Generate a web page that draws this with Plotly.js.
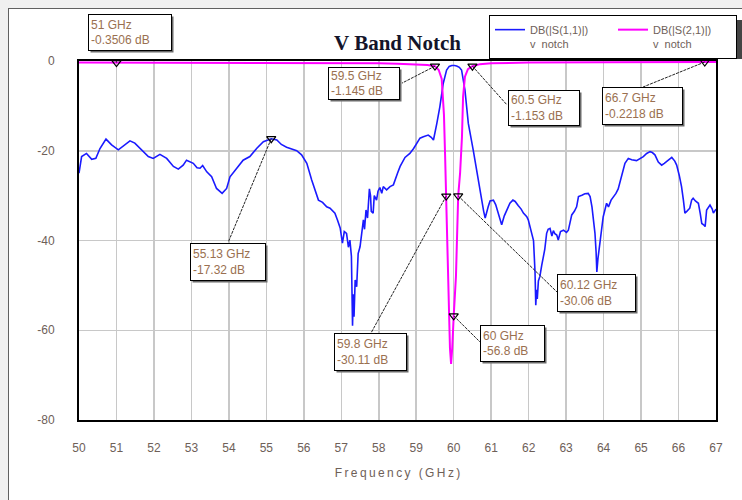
<!DOCTYPE html>
<html>
<head>
<meta charset="utf-8">
<script src="https://cdn.plot.ly/plotly-3.0.1.min.js"></script>
<style>
html,body{margin:0;padding:0;background:#f0f0f0;}
#frame{position:absolute;left:8px;top:8px;width:740px;height:500px;background:#fff;border-left:1px solid #606060;border-top:1px solid #606060;}
#chart{position:absolute;left:0;top:0;width:742px;height:500px;}
</style>
</head>
<body>
<div id="frame"></div>
<div id="chart"></div>
<script>
// ---- data: S11 (blue) ----
const s11Freq = [50.00,50.03,50.07,50.20,50.34,50.45,50.56,50.72,50.87,51.05,51.23,51.36,51.49,51.67,51.85,51.98,52.16,52.34,52.52,52.65,52.78,52.87,53.05,53.15,53.23,53.30,53.41,53.54,53.67,53.82,53.94,54.03,54.21,54.38,54.56,54.74,54.92,55.13,55.28,55.40,55.54,55.81,55.94,56.08,56.21,56.30,56.39,56.50,56.61,56.70,56.83,56.90,56.97,57.03,57.08,57.14,57.19,57.23,57.27,57.30,57.32,57.34,57.37,57.41,57.45,57.50,57.55,57.59,57.62,57.66,57.70,57.75,57.78,57.80,57.85,57.88,57.94,57.98,58.03,58.08,58.12,58.21,58.30,58.39,58.50,58.57,58.70,58.83,58.93,59.01,59.10,59.19,59.32,59.40,59.46,59.55,59.63,59.72,59.81,59.88,59.95,60.02,60.08,60.15,60.21,60.30,60.39,60.52,60.61,60.66,60.75,60.80,60.84,60.88,60.92,60.97,61.06,61.12,61.19,61.24,61.28,61.35,61.41,61.50,61.58,61.64,61.72,61.80,61.86,61.95,61.99,62.08,62.13,62.17,62.19,62.21,62.23,62.26,62.30,62.35,62.39,62.43,62.48,62.52,62.57,62.62,62.66,62.70,62.75,62.79,62.85,62.93,63.01,63.06,63.15,63.22,63.28,63.33,63.42,63.50,63.59,63.64,63.69,63.73,63.77,63.80,63.82,63.85,63.90,63.95,63.99,64.08,64.13,64.20,64.26,64.33,64.39,64.44,64.48,64.53,64.57,64.66,64.75,64.88,64.97,65.06,65.15,65.24,65.30,65.37,65.46,65.55,65.62,65.68,65.75,65.82,65.90,65.95,66.02,66.08,66.13,66.17,66.22,66.30,66.35,66.39,66.45,66.53,66.58,66.62,66.67,66.71,66.75,66.80,66.84,66.90,66.93,67.00];
const s11Db = [-25.0,-23.0,-21.3,-20.6,-21.9,-21.7,-19.5,-17.4,-18.7,-19.8,-18.7,-17.8,-18.3,-19.7,-21.3,-21.7,-20.8,-21.7,-23.5,-24.1,-23.2,-22.1,-22.8,-23.8,-23.9,-23.3,-24.7,-25.8,-28.4,-29.5,-28.4,-25.8,-23.9,-22.1,-21.3,-19.5,-18.0,-17.32,-17.6,-18.6,-19.2,-20.0,-20.9,-22.8,-26.5,-28.7,-31.0,-31.5,-32.5,-32.8,-33.9,-35.5,-37.2,-40.6,-38.0,-38.4,-41.5,-39.9,-43.5,-59.0,-52.0,-57.0,-48.8,-50.3,-42.9,-41.4,-38.0,-35.4,-37.5,-33.2,-35.0,-28.5,-30.0,-33.5,-33.9,-30.0,-31.0,-29.0,-28.2,-29.5,-28.0,-28.7,-28.0,-27.6,-25.0,-23.5,-21.5,-20.6,-19.5,-18.3,-17.2,-16.9,-16.5,-17.0,-17.6,-13.9,-10.2,-5.0,-2.0,-1.2,-1.0,-1.0,-1.1,-1.4,-2.0,-6.5,-13.9,-19.8,-24.5,-26.5,-31.7,-33.5,-35.0,-34.0,-32.5,-31.2,-31.0,-32.0,-33.9,-35.0,-36.5,-34.5,-33.2,-31.7,-31.0,-31.3,-32.2,-33.0,-33.9,-34.7,-35.4,-38.4,-40.0,-47.0,-54.4,-51.0,-53.0,-49.0,-48.0,-45.5,-44.0,-42.0,-38.4,-37.5,-37.3,-39.0,-37.8,-38.5,-38.8,-39.9,-38.0,-37.7,-38.2,-37.7,-34.3,-33.5,-32.5,-30.2,-29.9,-29.6,-29.5,-30.2,-32.5,-35.5,-38.4,-42.5,-47.0,-44.0,-40.5,-37.0,-34.7,-31.7,-32.5,-31.0,-30.4,-29.5,-28.5,-27.0,-25.5,-24.0,-22.8,-21.7,-22.0,-22.2,-21.8,-21.3,-20.6,-20.2,-20.4,-20.9,-22.5,-23.2,-22.8,-22.4,-21.9,-21.5,-22.3,-23.2,-25.5,-28.0,-31.0,-33.9,-33.5,-32.8,-31.0,-30.6,-31.2,-31.7,-34.0,-36.2,-36.5,-36.9,-33.2,-32.5,-32.1,-33.0,-33.9,-33.0];

// ---- data: S21 (magenta) ----
const s21Freq = [50.0,51.0,52.0,53.0,54.0,55.0,56.0,57.0,58.0,58.5,59.0,59.3,59.5,59.6,59.68,59.74,59.77,59.8,59.83,59.87,59.9,59.93,59.96,60.0,60.06,60.12,60.17,60.22,60.25,60.3,60.38,60.5,60.7,61.0,62.0,64.0,66.0,66.7,67.0];
const s21Db = [-0.35,-0.3506,-0.35,-0.35,-0.35,-0.36,-0.38,-0.42,-0.5,-0.6,-0.75,-0.9,-1.145,-2.0,-4.0,-12.0,-21.0,-30.11,-44.0,-55.0,-64.0,-67.5,-64.0,-56.8,-48.0,-30.06,-25.0,-17.0,-8.0,-3.5,-1.8,-1.153,-0.7,-0.5,-0.35,-0.28,-0.24,-0.2218,-0.21];

// ---- markers ----
const markerFreq = [51, 59.5, 60.5, 66.7, 55.13, 59.8, 60, 60.12];
const markerDb = [-0.3506, -1.145, -1.153, -0.2218, -17.32, -30.11, -56.8, -30.06];

// ---- ticks / labels ----
const xTicks = [50,51,52,53,54,55,56,57,58,59,60,61,62,63,64,65,66,67];
const yTicks = [0,-20,-40,-60,-80];
const seriesNames = ['DB(|S(1,1)|)<br>v  notch', 'DB(|S(2,1)|)<br>v  notch'];

// label box placement (pixels relative to marker point): [boxDx, boxDy(down), boxW, boxH, lineDx, lineDy(down)]
const labelPlacement = [
  [13.5,-30,84,37,-1.5,-10.5],
  [-71,17.4,72,33,-33,17],
  [71.6,41.8,72,36,34.6,38.8],
  [-62.2,44,81,38,-61.7,25],
  [-43.2,123.3,76,38,-42.9,103.3],
  [-75.7,155.9,73,38,-75.2,136.9],
  [58.8,27.6,65,37,26.3,26.1],
  [138.3,97.1,79,38,98.8,96.1]
];

const txtColor = '#6e6058';
const annColor = '#9a7050';
const fontFam = 'Liberation Sans, Arial, sans-serif';

const traces = [
  {x: s11Freq, y: s11Db, type: 'scatter', mode: 'lines', name: seriesNames[0],
   line: {color: '#1a1aff', width: 1.6}},
  {x: s21Freq, y: s21Db, type: 'scatter', mode: 'lines', name: seriesNames[1],
   line: {color: '#ff00ff', width: 2}},
  {x: markerFreq, y: markerDb, type: 'scatter', mode: 'markers', showlegend: false, hoverinfo: 'skip',
   marker: {symbol: 'triangle-down-open', size: 8, color: '#000', line: {width: 1.2}}, cliponaxis: false}
];

const shapes = [];
const annotations = [];
markerFreq.forEach((f, i) => {
  const p = labelPlacement[i];
  const db = markerDb[i];
  shapes.push({type: 'line', xref: 'x', yref: 'y', xsizemode: 'pixel', ysizemode: 'pixel',
    xanchor: f, yanchor: db, x0: 0, y0: 0, x1: p[4], y1: -p[5],
    line: {color: '#222', width: 1, dash: '3px,1px'}, layer: 'above'});
  const txt = f + ' GHz<br>' + db + ' dB';
  // drop shadow box (no text)
  annotations.push({x: f, y: db, xref: 'x', yref: 'y', showarrow: false, text: '\u00a0',
    xshift: p[0] + 2, yshift: -p[1] - 2, xanchor: 'center', yanchor: 'middle',
    width: p[2] - 6, height: p[3] - 6, borderpad: 2, borderwidth: 1, bordercolor: 'rgba(0,0,0,0)',
    bgcolor: '#6a6a6a', font: {family: fontFam, size: 12, color: 'rgba(0,0,0,0)'}});
  annotations.push({x: f, y: db, xref: 'x', yref: 'y', showarrow: false, text: txt,
    xshift: p[0], yshift: -p[1], xanchor: 'center', yanchor: 'middle',
    width: p[2] - 6, height: p[3] - 6, borderpad: 2, borderwidth: 1, bordercolor: '#000',
    bgcolor: '#fff', align: 'left', font: {family: fontFam, size: 12, color: annColor}});
});

// legend shadow
shapes.push({type: 'rect', xref: 'paper', yref: 'paper',
  x0: (493 - 79) / 637, x1: (760 - 79) / 637, y0: (420 - 59) / 359, y1: (420 - 20) / 359,
  fillcolor: '#444', line: {width: 0}, layer: 'above'});

const th = '\u2009';
const xTitle = 'Frequency (GHz)'.split('').join(th);

const layout = {
  width: 742, height: 500,
  paper_bgcolor: 'rgba(0,0,0,0)', plot_bgcolor: '#fff',
  margin: {l: 79, r: 26, t: 61, b: 80, autoexpand: false},
  title: {text: 'V Band Notch', x: 0.5, xref: 'paper', y: 1 - 43 / 500, yref: 'container', yanchor: 'middle',
    font: {family: 'Liberation Serif, Times New Roman, serif', size: 21, weight: 'bold', color: '#14142a'}},
  showlegend: true,
  legend: {orientation: 'h', x: (489 - 79) / 637, xanchor: 'left', y: (420 - 15) / 359, yanchor: 'top',
    bgcolor: '#fff', bordercolor: '#000', borderwidth: 1, entrywidth: 78, entrywidthmode: 'pixels',
    valign: 'top', font: {family: fontFam, size: 11, color: txtColor}, tracegroupgap: 0},
  xaxis: {range: [50, 67], tickvals: xTicks, ticktext: xTicks.map(String), showgrid: true, gridcolor: '#c8c8c8', gridwidth: 1.5,
    zeroline: false, showline: true, linecolor: '#000', linewidth: 2, mirror: true,
    ticks: 'outside', ticklen: 16, tickcolor: 'rgba(0,0,0,0)',
    tickfont: {family: fontFam, size: 12, color: txtColor},
    title: {text: xTitle, font: {family: fontFam, size: 12, color: txtColor}, standoff: 14}},
  yaxis: {range: [-80, 0], tickvals: yTicks, ticktext: yTicks.map(String), showgrid: true, gridcolor: '#c8c8c8', gridwidth: 1.5,
    zeroline: false, showline: true, linecolor: '#000', linewidth: 2, mirror: true,
    ticks: 'outside', ticklen: 20, tickcolor: 'rgba(0,0,0,0)',
    tickfont: {family: fontFam, size: 12, color: txtColor}},
  shapes: shapes,
  annotations: annotations
};

Plotly.newPlot('chart', traces, layout, {displayModeBar: false, staticPlot: true});
</script>
</body>
</html>
